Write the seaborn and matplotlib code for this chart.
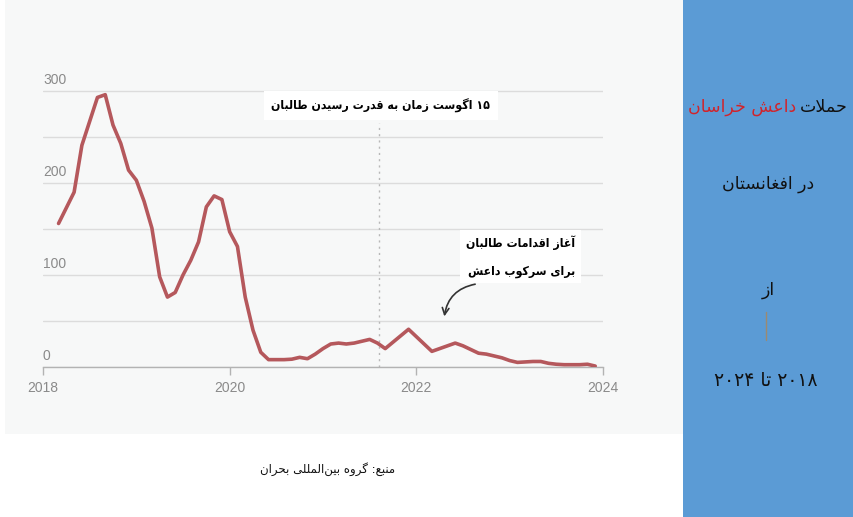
import re
import numpy as np
import pandas as pd
import matplotlib
matplotlib.use('Agg')
import matplotlib.pyplot as plt
import seaborn as sns
from matplotlib.patches import Rectangle
from matplotlib.transforms import ScaledTranslation
from matplotlib import font_manager

# ---------------- data ----------------
months = pd.date_range('2018-03-01', '2023-12-01', freq='MS')
attacks = [156, 173, 190, 241, 267, 293, 296, 263, 243, 214,
           203, 180, 151, 98, 76, 81, 100, 116, 136, 174,
           186, 182, 147, 131, 76, 40, 16, 8, 8, 8,
           8.5, 10.5, 9, 14, 20, 25, 26, 25, 26, 28,
           30, 26, 20, 27, 34, 41, 33, 25, 17, 20,
           23, 26, 23, 19, 15, 14, 12, 10, 7, 5,
           5.5, 6, 6, 4, 3, 2.5, 2.5, 2.5, 3, 1]
x_ticks = [2018, 2020, 2022, 2024]
x_tick_labels = ['2018', '2020', '2022', '2024']
y_ticks = [0, 50, 100, 150, 200, 250, 300]
y_tick_labels = ['0', '', '100', '', '200', '', '300']
taliban_takeover = 2021.6

note_takeover = '۱۵ اگوست زمان به قدرت رسیدن طالبان'
note_crackdown = ['آغاز اقدامات طالبان', 'برای سرکوب داعش']
title_black = 'حملات'
title_red = 'داعش خراسان'
line2 = 'در افغانستان'
line3 = 'از'
line4 = '۲۰۱۸ تا ۲۰۲۴'
source = 'منبع: گروه بین\u200cالمللی بحران'

# ---------------- simple Persian shaping (matplotlib has no CTL) ----------------
FORMS = {
    'ا': ('\uFE8D', '\uFE8E', None, None),
    'آ': ('\uFE81', '\uFE82', None, None),
    'ب': ('\uFE8F', '\uFE90', '\uFE91', '\uFE92'),
    'پ': ('\uFB56', '\uFB57', '\uFB58', '\uFB59'),
    'ت': ('\uFE95', '\uFE96', '\uFE97', '\uFE98'),
    'ح': ('\uFEA1', '\uFEA2', '\uFEA3', '\uFEA4'),
    'خ': ('\uFEA5', '\uFEA6', '\uFEA7', '\uFEA8'),
    'د': ('\uFEA9', '\uFEAA', None, None),
    'ر': ('\uFEAD', '\uFEAE', None, None),
    'ز': ('\uFEAF', '\uFEB0', None, None),
    'س': ('\uFEB1', '\uFEB2', '\uFEB3', '\uFEB4'),
    'ش': ('\uFEB5', '\uFEB6', '\uFEB7', '\uFEB8'),
    'ط': ('\uFEC1', '\uFEC2', '\uFEC3', '\uFEC4'),
    'ع': ('\uFEC9', '\uFECA', '\uFECB', '\uFECC'),
    'غ': ('\uFECD', '\uFECE', '\uFECF', '\uFED0'),
    'ف': ('\uFED1', '\uFED2', '\uFED3', '\uFED4'),
    'ق': ('\uFED5', '\uFED6', '\uFED7', '\uFED8'),
    'ک': ('\uFB8E', '\uFB8F', '\uFB90', '\uFB91'),
    'گ': ('\uFB92', '\uFB93', '\uFB94', '\uFB95'),
    'ل': ('\uFEDD', '\uFEDE', '\uFEDF', '\uFEE0'),
    'م': ('\uFEE1', '\uFEE2', '\uFEE3', '\uFEE4'),
    'ن': ('\uFEE5', '\uFEE6', '\uFEE7', '\uFEE8'),
    'ه': ('\uFEE9', '\uFEEA', '\uFEEB', '\uFEEC'),
    'و': ('\uFEED', '\uFEEE', None, None),
    'ی': ('\uFBFC', '\uFBFD', '\uFBFE', '\uFBFF'),
}
LAM_ALEF = {'ا': ('\uFEFB', '\uFEFC'), 'آ': ('\uFEF5', '\uFEF6')}


def _dual(c):
    return c in FORMS and FORMS[c][2] is not None


def shape(text):
    out = []
    chars = list(text)
    i = 0
    while i < len(chars):
        c = chars[i]
        if c == '\u200c':
            i += 1
            continue
        if c not in FORMS:
            out.append(c)
            i += 1
            continue
        prev = chars[i - 1] if i > 0 else ''
        nxt = chars[i + 1] if i + 1 < len(chars) else ''
        jp = _dual(prev)
        if c == 'ل' and nxt in LAM_ALEF:
            out.append(LAM_ALEF[nxt][1 if jp else 0])
            i += 2
            continue
        jn = _dual(c) and nxt in FORMS
        f = FORMS[c]
        if jp and jn:
            out.append(f[3])
        elif jp:
            out.append(f[1])
        elif jn:
            out.append(f[2])
        else:
            out.append(f[0])
        i += 1
    vis = ''.join(out)[::-1]
    return re.sub(r'[0-9\u06F0-\u06F9]+', lambda m: m.group(0)[::-1], vis)


# ---------------- figure ----------------
sns.set_theme(style='white')
plt.rcParams['font.family'] = ['Liberation Sans', 'DejaVu Sans']
AR = ['DejaVu Sans']

# condensed bold Arabic-capable font for annotations, if available
_cond = [f.fname for f in font_manager.fontManager.ttflist
         if 'DejaVuSansCondensed-Bold' in f.fname]
NOTE_FONT = (font_manager.FontProperties(fname=_cond[0], size=8.8) if _cond
             else font_manager.FontProperties(family='DejaVu Sans', weight='bold', size=8.3))

W, H = 854, 517
fig = plt.figure(figsize=(W / 100, H / 100), dpi=100)
fig.patch.set_facecolor('white')


def P(px, py):
    return px / W, 1 - py / H


fig.patches.append(Rectangle(P(5, 434), (683 - 5) / W, 434 / H, transform=fig.transFigure,
                             facecolor='#f7f8f8', edgecolor='none', zorder=-5))
fig.patches.append(Rectangle(P(683, 517), (W - 683) / W, 1, transform=fig.transFigure,
                             facecolor='#5b9bd5', edgecolor='none', zorder=-5))

ax = fig.add_axes([43 / W, (H - 367) / H, 560 / W, (367 - 72.6) / H])
ax.set_zorder(1)
ax.patch.set_alpha(0)

df = pd.DataFrame({'year': months.year + (months.month - 1) / 12.0, 'attacks': attacks})
sns.lineplot(data=df, x='year', y='attacks', ax=ax, color='#b5585c', linewidth=2.6,
             solid_joinstyle='round', zorder=3)

ax.set_xlim(2018, 2024)
ax.set_ylim(0, 320)
ax.set_xlabel('')
ax.set_ylabel('')
for s in ['left', 'top', 'right']:
    ax.spines[s].set_visible(False)
ax.spines['bottom'].set_color('#b3b3b3')
ax.spines['bottom'].set_linewidth(1.0)

ax.set_xticks(x_ticks)
ax.set_xticklabels(x_tick_labels)
ax.set_yticks(y_ticks)
ax.set_yticklabels(y_tick_labels)
ax.tick_params(axis='x', length=6, width=1, color='#b3b3b3', labelcolor='#8a8a8a',
               labelsize=10, pad=4, direction='out', bottom=True)
ax.tick_params(axis='y', length=0, labelcolor='#8a8a8a', labelsize=10, pad=0)
for lbl in ax.get_yticklabels():
    lbl.set_horizontalalignment('left')
    lbl.set_verticalalignment('bottom')
    lbl.set_transform(lbl.get_transform() + ScaledTranslation(0, 4 / 100, fig.dpi_scale_trans))
ax.grid(axis='y', color='#dcdcdc', linewidth=1)
ax.grid(axis='x', visible=False)

ax.axvline(taliban_takeover, ymin=0, ymax=265 / 320, color='#b8b8b8', lw=1,
           ls=(0, (1.5, 3)), zorder=2)

ax.text(2021.62, 284, shape(note_takeover), ha='center', va='center',
        fontproperties=NOTE_FONT, color='black', zorder=5,
        bbox=dict(boxstyle='square,pad=0.6', fc='white', ec='none'))
ax.text(2023.70, 120, '\n'.join(shape(t) for t in note_crackdown), ha='right', va='center',
        multialignment='right', linespacing=2.4, fontproperties=NOTE_FONT,
        color='black', zorder=5,
        bbox=dict(boxstyle='square,pad=0.45', fc='white', ec='none'))
ax.annotate('', xy=(2022.30, 55), xytext=(2022.63, 90),
            arrowprops=dict(arrowstyle='->', color='#333333', lw=1.2,
                            connectionstyle='arc3,rad=0.35', shrinkA=0, shrinkB=0),
            zorder=5)

# ---------------- right panel ----------------
TS = 12.5
t_black = fig.text(*P(797, 107), shape(title_black), ha='left', va='center', fontsize=TS,
                   family=AR, color='#111111')
t_red = fig.text(*P(791, 107), shape(title_red), ha='right', va='center', fontsize=TS,
                 family=AR, color='#d2232a')
fig.canvas.draw()
r = fig.canvas.get_renderer()
wb = t_black.get_window_extent(r).width
wr = t_red.get_window_extent(r).width
gap = 4
total = wb + wr + gap
left = 768 - total / 2
t_red.set_position(P(left + wr, 107))
t_black.set_position(P(left + wr + gap, 107))

fig.text(*P(768, 184), shape(line2), ha='center', va='center', fontsize=TS, family=AR,
         color='#111111')
fig.text(*P(768, 290), shape(line3), ha='center', va='center', fontsize=TS, family=AR,
         color='#111111')
fig.add_artist(plt.Line2D([766 / W, 766 / W], [1 - 312 / H, 1 - 340 / H],
                          transform=fig.transFigure, color='#9c8a70', lw=1))
fig.text(*P(766, 380), shape(line4), ha='center', va='center', fontsize=13.5, family=AR,
         color='#111111')

fig.text(*P(328, 469), shape(source), ha='center', va='center', fontsize=8.5, family=AR,
         color='#111111')

fig.savefig('out.png', dpi=100)
